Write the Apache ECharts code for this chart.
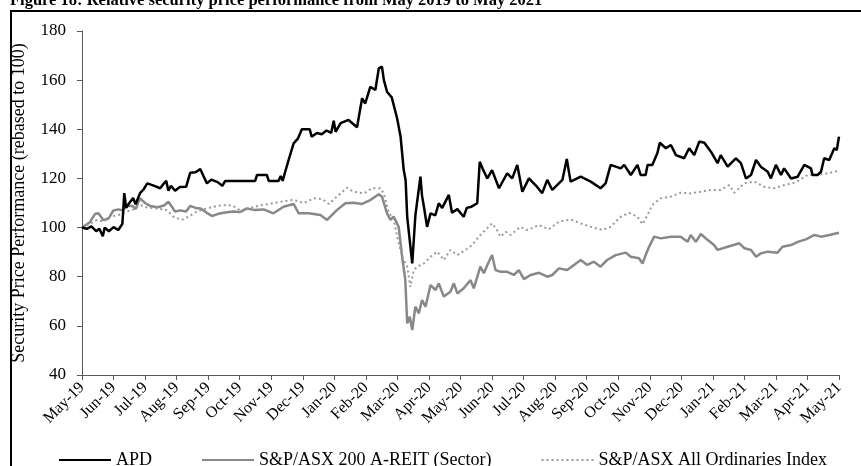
<!DOCTYPE html>
<html>
<head>
<meta charset="utf-8">
<script src="https://cdn.jsdelivr.net/npm/echarts@6/dist/echarts.min.js"></script>
<style>
  html, body { margin: 0; padding: 0; background: #fff; }
  #chart { width: 861px; height: 466px; }
</style>
</head>
<body>
<div id="chart"></div>
<script>
// month tick labels (x = months since May-19)
const monthLabels = ['May-19', 'Jun-19', 'Jul-19', 'Aug-19', 'Sep-19', 'Oct-19', 'Nov-19', 'Dec-19',
  'Jan-20', 'Feb-20', 'Mar-20', 'Apr-20', 'May-20', 'Jun-20', 'Jul-20', 'Aug-20', 'Sep-20', 'Oct-20',
  'Nov-20', 'Dec-20', 'Jan-21', 'Feb-21', 'Mar-21', 'Apr-21', 'May-21'];

const seriesNames = ['APD', 'S&P/ASX 200 A-REIT (Sector)', 'S&P/ASX All Ordinaries Index'];

// [month, rebased value]
const apdData = [
  [0, 100], [0.15, 99.5], [0.3, 100.5], [0.45, 98.5], [0.55, 99.5], [0.66, 96.5], [0.72, 100], [0.85, 98.5],
  [1.0, 100.2], [1.15, 99], [1.28, 101.5], [1.34, 114], [1.4, 108], [1.5, 110], [1.62, 112], [1.7, 109.5],
  [1.84, 114], [1.95, 115.5], [2.07, 118], [2.25, 117.2], [2.48, 116], [2.6, 118], [2.67, 119], [2.74, 115],
  [2.82, 117], [2.95, 115], [3.1, 116.5], [3.3, 116.6], [3.43, 122.3], [3.6, 122.5], [3.75, 123.8], [3.85, 121],
  [3.96, 118], [4.1, 119.5], [4.3, 118.5], [4.45, 117], [4.54, 119], [5.0, 119], [5.49, 119], [5.55, 121.4],
  [5.86, 121.4], [5.92, 119], [6.23, 119], [6.3, 121], [6.36, 119], [6.55, 127.5], [6.71, 134.3], [6.85, 136.3],
  [6.97, 140], [7.22, 140], [7.28, 137], [7.45, 138.5], [7.6, 138], [7.75, 139.5], [7.9, 138.5], [7.98, 143.5],
  [8.04, 139], [8.2, 142.5], [8.45, 143.8], [8.72, 140.8], [8.88, 152.6], [8.98, 150.5], [9.14, 157.3], [9.3, 156],
  [9.41, 164.8], [9.51, 165.5], [9.57, 160], [9.67, 155.3], [9.82, 153], [9.99, 144.5], [10.1, 137], [10.2, 123.4],
  [10.26, 119.3], [10.31, 104.4], [10.47, 85.4], [10.57, 105], [10.73, 120.7], [10.78, 113], [10.84, 108.5],
  [10.94, 100.3], [11.05, 105.8], [11.2, 105], [11.31, 109.9], [11.42, 108], [11.63, 113.3], [11.73, 106],
  [11.9, 107.5], [12.1, 104.4], [12.2, 108], [12.35, 108.5], [12.53, 109.9], [12.61, 126.8], [12.7, 124],
  [12.85, 120], [13.0, 123.4], [13.22, 116], [13.48, 122.1], [13.64, 120], [13.8, 125.5], [13.96, 114.6],
  [14.17, 120], [14.4, 117], [14.59, 114], [14.75, 119.4], [14.91, 115.3], [15.23, 119.4], [15.37, 127.9],
  [15.49, 118.7], [15.81, 120.7], [16.13, 118.7], [16.44, 116], [16.6, 118], [16.76, 125.5], [17.08, 124.1],
  [17.19, 125.5], [17.4, 121.4], [17.61, 125.5], [17.71, 121.4], [17.87, 121.4], [17.93, 125.5], [18.08, 125.5],
  [18.24, 130.2], [18.32, 134.5], [18.51, 132.3], [18.67, 133.6], [18.83, 129.5], [19.09, 128.2], [19.25, 132.3],
  [19.41, 129.5], [19.57, 135], [19.73, 134.5], [19.94, 130.9], [20.15, 126.2], [20.25, 129.5], [20.47, 124.8],
  [20.73, 128.2], [20.89, 126.2], [21.05, 120], [21.21, 121.4], [21.37, 127.5], [21.52, 124.8], [21.74, 122.7],
  [21.84, 120], [22.0, 125.5], [22.16, 121.4], [22.26, 124.1], [22.48, 120], [22.69, 120.7], [22.9, 125.5],
  [23.11, 124.1], [23.16, 121.4], [23.32, 121.4], [23.43, 122.7], [23.53, 128.2], [23.69, 127.5], [23.85, 132.3],
  [23.93, 131.6], [24, 137]
];

const reitData = [
  [0, 100], [0.25, 102.2], [0.41, 105.5], [0.52, 105.8], [0.68, 103], [0.85, 103.8], [0.99, 106.9], [1.15, 107.4],
  [1.3, 107], [1.42, 108.8], [1.6, 108.8], [1.7, 107.5], [1.84, 111.9], [2.0, 110], [2.16, 108.8], [2.4, 108.3],
  [2.6, 109], [2.74, 110.5], [2.85, 108.5], [2.95, 106.5], [3.1, 107], [3.3, 106.5], [3.43, 108.8], [3.6, 108],
  [3.75, 107.8], [3.96, 106], [4.12, 104.7], [4.3, 105.5], [4.49, 106], [4.8, 106.5], [5.0, 106.3], [5.23, 107.8],
  [5.45, 107.2], [5.76, 107.4], [6.07, 105.8], [6.39, 108.5], [6.71, 109.6], [6.87, 105.8], [7.19, 105.8],
  [7.56, 105.1], [7.77, 103.1], [8.08, 107.1], [8.35, 109.9], [8.61, 110.1], [8.88, 109.6], [9.14, 111.2],
  [9.41, 113.6], [9.51, 112.6], [9.67, 105.8], [9.78, 103.1], [9.88, 104.5], [10.04, 100.3], [10.15, 88.1],
  [10.25, 78.6], [10.31, 61], [10.39, 63.7], [10.47, 58.3], [10.57, 67.8], [10.68, 65.1], [10.78, 70.5],
  [10.89, 67.8], [11.05, 76.6], [11.21, 74.6], [11.31, 77.3], [11.47, 71.9], [11.68, 73.9], [11.79, 77.3],
  [11.9, 73.2], [12.1, 75.3], [12.32, 78.6], [12.42, 75.3], [12.63, 84.1], [12.74, 81.4], [12.85, 84.8],
  [13.0, 88.8], [13.11, 82.7], [13.27, 82], [13.48, 82], [13.69, 80.7], [13.85, 82.7], [14.01, 79], [14.22, 80.7],
  [14.49, 81.6], [14.75, 80], [14.91, 80.7], [15.12, 83.4], [15.38, 82.7], [15.6, 84.8], [15.81, 86.8],
  [16.02, 84.8], [16.23, 86.1], [16.44, 84.1], [16.65, 86.8], [16.92, 88.8], [17.24, 89.8], [17.4, 88.1],
  [17.66, 87.5], [17.77, 85.4], [17.87, 88.8], [17.98, 92.2], [18.14, 96.3], [18.35, 95.6], [18.67, 96.3],
  [18.98, 96.3], [19.2, 94.2], [19.3, 97], [19.46, 94.2], [19.62, 97.4], [19.83, 95], [20.04, 92.9], [20.15, 90.9],
  [20.47, 92.2], [20.84, 93.6], [21.0, 91.6], [21.21, 90.9], [21.37, 88.1], [21.52, 89.5], [21.74, 90.2],
  [22.05, 89.8], [22.21, 92.2], [22.48, 92.9], [22.69, 94.2], [22.95, 95.2], [23.22, 97], [23.43, 96.3],
  [23.69, 97], [24, 97.9]
];

const ordsData = [
  [0, 100], [0.25, 101.5], [0.47, 103.1], [0.68, 102.4], [0.89, 104.4], [1.15, 105.1], [1.42, 106.5],
  [1.63, 107.4], [1.84, 109.2], [2.05, 108.2], [2.37, 107.8], [2.69, 107.1], [2.9, 104.4], [3.16, 103.1],
  [3.37, 104.4], [3.64, 106.5], [3.96, 107.8], [4.28, 108.8], [4.59, 109.2], [4.8, 108.8], [5.07, 106.5],
  [5.33, 108], [5.65, 109], [5.97, 109.7], [6.29, 110.5], [6.71, 111.3], [7.03, 110], [7.35, 111.9],
  [7.61, 111.6], [7.83, 109.6], [8.08, 112.6], [8.4, 116.2], [8.61, 114.6], [8.93, 113.9], [9.2, 116],
  [9.46, 116], [9.57, 113.9], [9.73, 105.8], [9.88, 103.8], [9.99, 96.3], [10.15, 88.1], [10.31, 84.1],
  [10.41, 75.9], [10.52, 82.7], [10.63, 84.1], [10.84, 85.4], [11.05, 88.1], [11.26, 90.2], [11.47, 86.8],
  [11.68, 90.9], [11.9, 88.8], [12.16, 90.9], [12.37, 92.9], [12.58, 96.3], [12.79, 99], [13.0, 101.7],
  [13.16, 99], [13.27, 96.3], [13.43, 98.3], [13.59, 97], [13.9, 100.3], [14.12, 99], [14.49, 101],
  [14.8, 99.3], [15.12, 102.4], [15.49, 103.3], [15.81, 101.7], [16.13, 100.3], [16.5, 99], [16.76, 100.3],
  [17.08, 104.4], [17.35, 106], [17.61, 104.4], [17.77, 101.4], [17.93, 105.1], [18.08, 109.2], [18.35, 111.9],
  [18.67, 112.6], [18.98, 114.2], [19.3, 113.9], [19.62, 114.6], [19.94, 115.3], [20.25, 115.3], [20.52, 117.3],
  [20.68, 114.2], [21.0, 118], [21.32, 118.7], [21.63, 116.6], [21.95, 116], [22.26, 117.3], [22.53, 118],
  [22.74, 119.3], [23.0, 121.4], [23.2, 121.4], [23.53, 121.8], [23.85, 122.7], [24, 123.1]
];

const serif = '"Liberation Serif", "Times New Roman", serif';

const chart = echarts.init(document.getElementById('chart'), null, { renderer: 'canvas' });

const option = {
  animation: false,
  backgroundColor: '#fff',
  textStyle: { fontFamily: serif, color: '#000' },
  graphic: [
    {
      type: 'text',
      left: 10,
      top: -8,
      style: {
        text: 'Figure 18: Relative security price performance from May 2019 to May 2021',
        font: 'bold 16.5px ' + serif,
        fill: '#000'
      }
    },
    {
      type: 'rect',
      shape: { x: 11, y: 11, width: 900, height: 500 },
      style: { fill: 'none', stroke: '#000', lineWidth: 2 },
      silent: true
    }
  ],
  grid: { left: 82, right: 22, top: 31, bottom: 91 },
  legend: {
    data: seriesNames,
    left: 53,
    top: 446,
    itemWidth: 52,
    itemHeight: 12,
    itemGap: 49,
    itemStyle: { opacity: 0 },
    textStyle: { fontFamily: serif, fontSize: 18, color: '#000' }
  },
  xAxis: {
    type: 'value',
    min: 0,
    max: 24,
    interval: 1,
    splitLine: { show: false },
    axisLine: { lineStyle: { color: '#595959', width: 1 } },
    axisTick: { length: 5, lineStyle: { color: '#595959' } },
    axisLabel: {
      rotate: 45,
      margin: 10,
      fontSize: 16,
      fontFamily: serif,
      color: '#000',
      formatter: v => monthLabels[Math.round(v)]
    }
  },
  yAxis: {
    type: 'value',
    min: 40,
    max: 180,
    interval: 20,
    name: 'Security Price Performance (rebased to 100)',
    nameLocation: 'middle',
    nameGap: 54,
    nameTextStyle: { fontFamily: serif, fontSize: 18, color: '#000' },
    splitLine: { show: false },
    axisLine: { show: true, lineStyle: { color: '#595959', width: 1 } },
    axisTick: { show: true, length: 5, lineStyle: { color: '#595959' } },
    axisLabel: { margin: 16, fontSize: 17, fontFamily: serif, color: '#000' }
  },
  series: [
    {
      name: seriesNames[0],
      type: 'line',
      data: apdData,
      symbol: 'none',
      color: '#000',
      lineStyle: { color: '#000', width: 2.5 },
      z: 3
    },
    {
      name: seriesNames[1],
      type: 'line',
      data: reitData,
      symbol: 'none',
      color: '#888',
      lineStyle: { color: '#888', width: 2.5 },
      z: 2
    },
    {
      name: seriesNames[2],
      type: 'line',
      data: ordsData,
      symbol: 'none',
      color: '#999',
      lineStyle: { color: '#999', width: 2, type: [2, 3] },
      z: 2
    }
  ]
};

chart.setOption(option);
</script>
</body>
</html>
